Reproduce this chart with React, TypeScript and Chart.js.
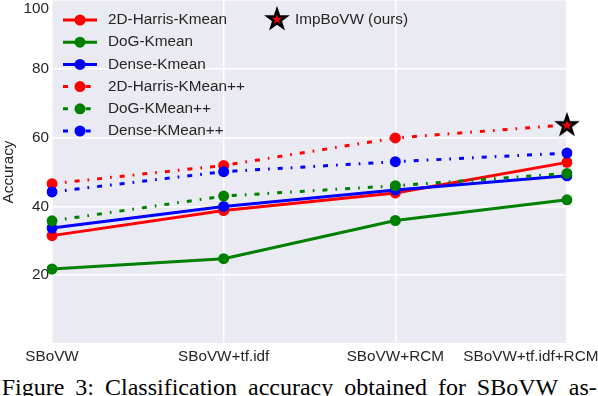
import React, { useEffect, useRef } from 'react';
import { Chart, registerables } from 'chart.js';

Chart.register(...registerables);

const categories = ['SBoVW', 'SBoVW+tf.idf', 'SBoVW+RCM', 'SBoVW+tf.idf+RCM'];
const harrisKmean = [31.5, 38.8, 43.9, 52.8];
const dogKmean = [21.8, 24.8, 35.9, 41.9];
const denseKmean = [33.7, 40.0, 44.8, 48.9];
const harrisKmeanPP = [46.6, 51.9, 59.9, 63.7];
const dogKmeanPP = [35.8, 43.0, 46.0, 49.6];
const denseKmeanPP = [44.2, 50.1, 53.0, 55.5];
const impBoVW = [null, null, null, 63.7];
const seriesLabels = [
  '2D-Harris-Kmean',
  'DoG-Kmean',
  'Dense-Kmean',
  '2D-Harris-KMean++',
  'DoG-KMean++',
  'Dense-KMean++',
];
const starLabel = 'ImpBoVW (ours)';
const yTicks = [0, 20, 40, 60, 80, 100];

const TEXT = '#262626';
const FONT = '"Liberation Sans", Arial, sans-serif';
const FS = 15.3;
const DASHDOT = [5, 8, 1.7, 8];

function makeStar(): HTMLCanvasElement {
  const c = document.createElement('canvas');
  c.width = 26;
  c.height = 26;
  const g = c.getContext('2d')!;
  const R = 9.5;
  const r = R * 0.39;
  g.beginPath();
  for (let i = 0; i < 10; i++) {
    const rad = i % 2 === 0 ? R : r;
    const a = -Math.PI / 2 + (i * Math.PI) / 5;
    const x = 13 + rad * Math.cos(a);
    const y = 13.5 + rad * Math.sin(a);
    if (i === 0) g.moveTo(x, y);
    else g.lineTo(x, y);
  }
  g.closePath();
  g.fillStyle = '#ff0000';
  g.fill();
  g.lineWidth = 2.6;
  g.lineJoin = 'miter';
  g.strokeStyle = '#000000';
  g.stroke();
  return c;
}

const bgPlugin = {
  id: 'plotBg',
  beforeDraw(chart: any) {
    const { ctx, chartArea } = chart;
    ctx.save();
    ctx.fillStyle = '#EAEAF2';
    ctx.fillRect(chartArea.left, chartArea.top, chartArea.right - chartArea.left, chartArea.bottom - chartArea.top);
    ctx.restore();
  },
};

const legendPlugin = {
  id: 'mplLegend',
  afterDraw(chart: any) {
    const { ctx, chartArea } = chart;
    const x0 = chartArea.left + 11;
    const y0 = chartArea.top + 20;
    const step = 22.2;
    ctx.save();
    ctx.font = FS + 'px ' + FONT;
    ctx.textBaseline = 'middle';
    ctx.lineCap = 'butt';
    let row = 0;
    chart.data.datasets.forEach((ds: any) => {
      if (ds.isStar) {
        const img = ds.pointStyle as HTMLCanvasElement;
        const sx = chartArea.left + 225;
        ctx.drawImage(img, sx - img.width / 2, y0 - 1 - img.height / 2);
        ctx.fillStyle = TEXT;
        ctx.fillText(ds.label, sx + 18, y0);
        return;
      }
      const y = y0 + row * step;
      row++;
      ctx.strokeStyle = ds.borderColor;
      ctx.lineWidth = 3;
      ctx.setLineDash(ds.borderDash || []);
      ctx.beginPath();
      ctx.moveTo(x0, y);
      ctx.lineTo(x0 + 34, y);
      ctx.stroke();
      ctx.setLineDash([]);
      ctx.fillStyle = ds.borderColor;
      ctx.beginPath();
      ctx.arc(x0 + 17, y, 5.5, 0, Math.PI * 2);
      ctx.fill();
      ctx.fillStyle = TEXT;
      ctx.fillText(ds.label, x0 + 45, y);
    });
    ctx.restore();
  },
};

export default function App() {
  const ref = useRef<HTMLCanvasElement>(null);

  useEffect(() => {
    if (!ref.current) return;
    const star = makeStar();
    const mk = (label: string, data: number[], color: string, dashed: boolean, order: number, radii?: number[]) => ({
      label,
      data,
      borderColor: color,
      backgroundColor: color,
      pointBackgroundColor: color,
      pointBorderColor: color,
      pointBorderWidth: 0,
      pointRadius: radii || 5.5,
      borderWidth: 3,
      borderDash: dashed ? DASHDOT : [],
      borderCapStyle: 'butt',
      tension: 0,
      fill: false,
      order,
    });
    const chart = new Chart(ref.current, {
      type: 'line',
      data: {
        labels: categories,
        datasets: [
          mk(seriesLabels[0], harrisKmean, '#ff0000', false, 10),
          mk(seriesLabels[1], dogKmean, '#008000', false, 9),
          mk(seriesLabels[2], denseKmean, '#0000ff', false, 8),
          mk(seriesLabels[3], harrisKmeanPP, '#ff0000', true, 7, [5.5, 5.5, 5.5, 0]),
          mk(seriesLabels[4], dogKmeanPP, '#008000', true, 6),
          mk(seriesLabels[5], denseKmeanPP, '#0000ff', true, 5),
          {
            label: starLabel,
            data: impBoVW,
            isStar: true,
            showLine: false,
            pointStyle: star,
            pointRadius: 10,
            borderColor: '#000000',
            backgroundColor: '#ff0000',
            clip: false,
            order: 0,
          } as any,
        ],
      },
      options: {
        responsive: false,
        maintainAspectRatio: false,
        animation: false,
        events: [],
        layout: { autoPadding: false, padding: { left: 0, top: 0, right: 31, bottom: 0 } } as any,
        plugins: {
          legend: { display: false },
          tooltip: { enabled: false },
        },
        scales: {
          x: {
            type: 'category',
            offset: false,
            border: { display: false },
            grid: { color: '#ffffff', lineWidth: 1.5, drawTicks: false },
            ticks: {
              color: TEXT,
              font: { family: FONT, size: FS },
              padding: 3.5,
              maxRotation: 0,
              autoSkip: false,
              callback: (_v: any, i: number) =>
                i === categories.length - 1 ? categories[i] + ' '.repeat(17) : categories[i],
            },
            afterFit: (s: any) => {
              s.height = 28;
              s.paddingLeft = 0;
              s.paddingRight = 0;
              s.paddingTop = 0;
              s.paddingBottom = 0;
            },
          },
          y: {
            min: yTicks[0],
            max: yTicks[yTicks.length - 1],
            border: { display: false },
            grid: { color: '#ffffff', lineWidth: 1.5, drawTicks: false },
            afterBuildTicks: (s: any) => {
              s.ticks = yTicks.map((v) => ({ value: v }));
            },
            ticks: {
              color: TEXT,
              font: { family: FONT, size: FS },
              padding: 3,
              callback: (v: any) => {
                if (v === yTicks[0]) return '';
                if (v === yTicks[yTicks.length - 1]) return ['', String(v)];
                return String(v);
              },
            },
            title: {
              display: true,
              text: 'Accuracy',
              color: TEXT,
              font: { family: FONT, size: FS },
              padding: 0,
            },
            afterFit: (s: any) => {
              s.width = 52;
              s.paddingLeft = 0;
              s.paddingRight = 0;
              s.paddingTop = 0;
              s.paddingBottom = 0;
            },
          },
        },
      },
      plugins: [bgPlugin, legendPlugin],
    } as any);
    return () => chart.destroy();
  }, []);

  return (
    <div
      style={{
        position: 'absolute',
        left: 0,
        top: 0,
        width: 598,
        height: 396,
        overflow: 'hidden',
        background: '#ffffff',
      }}
    >
      <canvas ref={ref} width={598} height={372} style={{ position: 'absolute', left: 0, top: 0, width: 598, height: 372 }} />
      <div
        style={{
          position: 'absolute',
          left: 1.7,
          top: 374.5,
          font: '24px "Liberation Serif", "Times New Roman", serif',
          lineHeight: '24px',
          whiteSpace: 'nowrap',
          wordSpacing: '5px',
          color: '#000000',
        }}
      >
        Figure 3: Classification accuracy obtained for SBoVW as-
      </div>
    </div>
  );
}
